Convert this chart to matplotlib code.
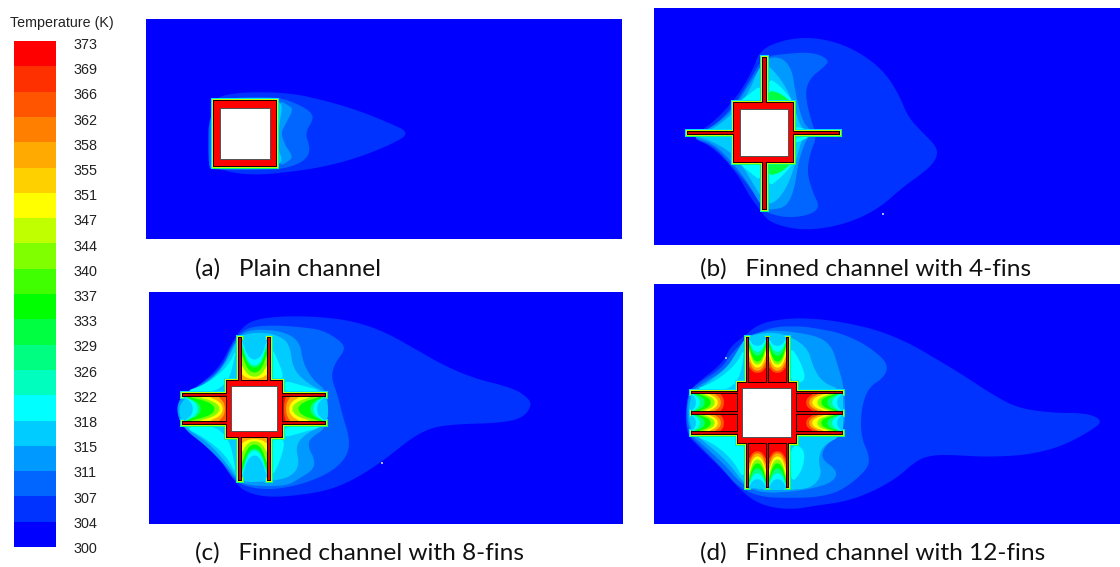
import numpy as np
import matplotlib
matplotlib.use('Agg')
import matplotlib.pyplot as plt
from matplotlib.patches import Polygon, Rectangle

# colour scale
LEVELS = [373, 369, 366, 362, 358, 355, 351, 347, 344, 340, 337, 333, 329, 326, 322, 318, 315, 311, 307, 304, 300]
BANDS = ['#ff0000', '#ff3000', '#ff5500', '#ff8000', '#ffaa00', '#ffd000', '#ffff00', '#bfff00', '#80ff00', '#40ff00',
         '#00ff00', '#00ff40', '#00ff80', '#00ffbf', '#00ffff', '#00ccff', '#0099ff', '#0066ff', '#0033ff', '#0000ff']
C304, C307, C311, C315, C318 = '#0033ff', '#0066ff', '#0099ff', '#00ccff', '#00ffff'
GAP_COLORS = ['#00ccff', '#00ffff', '#00ff80', '#00ff00', '#80ff00', '#ffff00', '#ffaa00', '#ff5500', '#ff0000']
HALO = [(2.0, '#00e0ff'), (1.5, '#00ff80'), (0.9, '#c0ff00')]

CAPTIONS = ['(a)   Plain channel', '(b)   Finned channel with 4-fins',
            '(c)   Finned channel with 8-fins', '(d)   Finned channel with 12-fins']
CAPTION_XY = [(195, 269), (700, 269), (195, 553), (700, 553)]
PANELS = [(146, 19, 622, 239), (654, 8, 1120, 245), (149, 292, 623, 524), (654, 284, 1120, 524)]

# panel a contours
A_304 = [(213, 100), (227, 94), (253, 92), (290, 93), (323, 100), (357, 110), (387, 122), (411, 133), (390, 145),
         (357, 158), (323, 167), (290, 172), (257, 175), (233, 173), (217, 168)]
A_307 = [(209, 99), (276, 96), (300, 105), (312, 113), (313, 120), (305, 133), (310, 147), (308, 157), (297, 165),
         (276, 170), (212, 170), (208, 166)]
A_311 = [(276, 99), (290, 106), (293, 110), (285, 125), (281, 133), (285, 145), (292, 155), (291, 160), (276, 168)]
A_315 = [(276, 100), (283, 105), (279, 125), (278, 150), (283, 160), (276, 167)]

# panel b contours
B_304 = [(760, 50), (783, 40), (810, 37), (840, 43), (867, 57), (887, 75), (900, 97), (908, 117), (923, 133), (937, 147),
         (937, 158), (927, 170), (903, 187), (877, 210), (843, 225), (803, 231), (770, 223), (760, 210), (750, 197),
         (737, 173), (713, 147), (690, 137), (713, 123), (737, 97), (753, 70)]
B_307 = [(763, 57), (783, 54), (813, 52), (830, 60), (823, 68), (810, 78), (805, 93), (810, 117), (817, 137), (810, 153),
         (807, 173), (813, 193), (820, 207), (810, 215), (787, 218), (767, 213), (762, 207), (750, 187), (733, 167),
         (713, 145), (690, 138), (713, 127), (733, 107), (750, 80)]
B_311 = [(767, 57), (783, 58), (792, 70), (795, 90), (800, 113), (806, 127), (815, 132), (806, 139), (798, 163), (795, 187),
         (787, 207), (770, 210), (762, 207), (748, 183), (733, 163), (713, 143), (690, 137), (713, 127), (733, 110), (750, 83)]
B_315 = [(768, 65), (780, 78), (790, 95), (795, 110), (800, 125), (806, 132), (800, 145), (795, 165), (788, 185), (778, 200),
         (768, 205), (760, 195), (748, 175), (735, 155), (712, 141), (695, 136), (712, 130), (735, 112), (750, 90), (760, 65)]
B_CYAN = [[(768, 78), (778, 84), (788, 95), (795, 105), (768, 105)], [(768, 187), (778, 180), (788, 170), (795, 160), (768, 160)],
          [(735, 105), (752, 92), (761, 85), (763, 105)], [(735, 160), (752, 174), (761, 181), (763, 160)],
          [(794, 126), (812, 131), (794, 132)], [(794, 138), (812, 136), (794, 144)]]
B_GREEN = [[(768, 90), (780, 93), (790, 101), (792, 104), (768, 104)], [(768, 176), (780, 173), (790, 165), (792, 162), (768, 162)]]

# panel c contours
C_304 = [(178, 397), (197, 387), (220, 367), (233, 340), (247, 322), (270, 317), (300, 316), (333, 318), (360, 323),
         (387, 333), (417, 350), (443, 365), (473, 378), (513, 388), (527, 397), (532, 405), (523, 418), (500, 423),
         (460, 424), (433, 427), (413, 437), (393, 453), (370, 470), (343, 485), (317, 493), (270, 498), (245, 492),
         (235, 482), (220, 460), (200, 440), (180, 420)]
C_307 = [(233, 342), (245, 328), (270, 325), (300, 327), (323, 330), (342, 342), (345, 350), (335, 363), (331, 377),
         (337, 393), (343, 417), (350, 440), (347, 457), (330, 473), (300, 485), (270, 490), (247, 487), (233, 480),
         (217, 453), (190, 433), (178, 420), (178, 397), (197, 387), (222, 368)]
C_311 = [(243, 332), (260, 329), (285, 332), (300, 342), (303, 363), (313, 380), (328, 392), (328, 427), (310, 438),
         (308, 447), (315, 460), (313, 470), (300, 478), (287, 486), (253, 486), (238, 482), (225, 465), (205, 445),
         (185, 430), (177, 415), (178, 400), (197, 388), (220, 372), (233, 345)]
C_315 = [(240, 335), (262, 332), (280, 336), (290, 345), (293, 370), (310, 385), (327, 393), (329, 424), (308, 432), (295, 445),
         (300, 465), (290, 478), (262, 482), (240, 482), (228, 465), (208, 442), (185, 428), (179, 415), (180, 402),
         (200, 388), (222, 370), (235, 345)]
C_CYAN = [[(270, 345), (278, 360), (285, 380), (270, 380)], [(270, 480), (280, 462), (286, 438), (270, 438)],
          [(238, 345), (228, 367), (205, 385), (182, 392), (226, 392)], [(238, 478), (226, 455), (205, 438), (182, 426), (226, 426)],
          [(283, 380), (300, 385), (326, 392), (283, 393)], [(283, 438), (300, 433), (326, 426), (283, 426)]]

# panel d contours
D_304 = [(743, 337), (760, 323), (790, 318), (820, 319), (847, 323), (877, 330), (907, 342), (933, 357), (963, 375),
         (990, 393), (1017, 408), (1053, 413), (1087, 413), (1104, 421), (1087, 433), (1060, 447), (1027, 455), (987, 457),
         (953, 455), (933, 455), (917, 460), (897, 478), (870, 493), (843, 502), (820, 505), (790, 510), (760, 505),
         (740, 490), (723, 470), (700, 448), (685, 433), (687, 393), (697, 383), (723, 363), (730, 347)]
D_307 = [(745, 340), (770, 327), (800, 326), (820, 329), (840, 333), (863, 343), (883, 358), (888, 368), (883, 378),
         (868, 388), (861, 410), (861, 437), (870, 457), (867, 470), (843, 490), (820, 497), (790, 498), (760, 497),
         (738, 487), (722, 468), (700, 446), (686, 432), (687, 394), (697, 384), (722, 368), (730, 355)]
D_311 = [(750, 335), (770, 330), (795, 332), (820, 337), (832, 347), (837, 363), (845, 390), (845, 433), (827, 443),
         (820, 458), (837, 470), (835, 480), (820, 487), (790, 492), (762, 493), (742, 485), (725, 465), (703, 445),
         (688, 432), (687, 395), (700, 385), (725, 370), (735, 355), (746, 338)]
D_315 = [(750, 336), (768, 332), (788, 335), (808, 348), (813, 367), (823, 383), (843, 390), (844, 435), (823, 445),
         (818, 460), (822, 475), (812, 488), (790, 490), (760, 490), (745, 485), (728, 462), (706, 443), (689, 430),
         (689, 397), (703, 386), (727, 368), (737, 352), (745, 338)]
D_CYAN = [[(789, 345), (800, 360), (807, 382), (789, 383)], [(790, 444), (805, 448), (803, 470), (790, 485)],
          [(746, 345), (736, 365), (713, 383), (692, 390), (737, 391)], [(692, 435), (713, 443), (733, 460), (745, 482), (745, 445), (737, 435)]]

# solids: square outer, square hole, vertical fins, horizontal fins
A_SOLID = ((213, 100, 277, 167), (221, 109, 270, 159), [], [])
B_SOLID = ((733, 102, 794, 163), (741, 110, 788, 156), [(762, 767, 57, 210)], [(687, 840, 131, 135)])
C_SOLID = ((226, 380, 283, 438), (232, 387, 277, 431), [(238, 242, 337, 481), (267, 271, 337, 481)],
           [(182, 326, 393, 397), (182, 326, 421, 425)])
D_SOLID = ((737, 382, 797, 444), (743, 389, 791, 437), [(746, 749, 337, 488), (766, 769, 337, 488), (786, 789, 337, 488)],
           [(691, 843, 391, 394), (691, 843, 411, 415), (691, 843, 431, 435)])

# gaps between fins: axis, root, tip, side 1, side 2, depth at centre, depth at the fin walls
C_WALL_H = [43, 43, 43, 42, 40, 30, 18, 8, 3]
C_WALL_V = [43, 42, 40, 36, 28, 16, 6, 3, 1]
C_GAPS = [('h', 283, 326, 397, 421, [41, 34, 30, 27, 15, 9, 6, 3, 1], C_WALL_H),
          ('h', 226, 182, 397, 421, [40, 33, 28, 25, 11, 6, 3, 1, 0], C_WALL_H),
          ('v', 380, 337, 242, 267, [30, 20, 14, 12, 7, 3, 1, 0, 0], C_WALL_V),
          ('v', 438, 481, 242, 267, [25, 17, 12, 10, 6, 3, 1, 0, 0], C_WALL_V)]
D_WALL_V = [45, 44, 43, 41, 38, 34, 28, 22, 16]
D_WALL_H = [46, 46, 45, 43, 40, 35, 29, 23, 17]
D_TOP = [45, 36, 30, 26, 20, 17, 14, 11, 9]
D_BOTTOM = [44, 35, 29, 24, 19, 15, 12, 9, 7]
D_RIGHT = [46, 40, 35, 30, 24, 20, 15, 12, 9]
D_LEFT = [46, 41, 37, 32, 26, 22, 19, 16, 13]
D_GAPS = [('v', 382, 337, 749, 766, D_TOP, D_WALL_V), ('v', 382, 337, 769, 786, D_TOP, D_WALL_V),
          ('v', 444, 488, 749, 766, D_BOTTOM, D_WALL_V), ('v', 444, 488, 769, 786, D_BOTTOM, D_WALL_V),
          ('h', 797, 843, 394, 411, D_RIGHT, D_WALL_H), ('h', 797, 843, 415, 431, D_RIGHT, D_WALL_H),
          ('h', 737, 691, 394, 411, D_LEFT, D_WALL_H), ('h', 737, 691, 415, 431, D_LEFT, D_WALL_H)]

SPECKS = [(883, 214), (382, 463), (726, 358)]
# shape of a contour across a gap, 0 at the wall side, 1 at the centre line
ACROSS = [-0.06, -0.06, 0.06, 0.16, 0.3, 0.5, 0.7, 0.84, 0.94, 1.06, 1.06]
WALL_PULL = [0, 1, 0.7, 0.35, 0.1, 0, 0.1, 0.35, 0.7, 1, 0]


def smooth(pts, rounds=3):
    pts = np.array(pts, dtype=float)
    for _ in range(rounds):
        nxt = np.roll(pts, -1, axis=0)
        pts = np.column_stack([0.75 * pts + 0.25 * nxt, 0.25 * pts + 0.75 * nxt]).reshape(-1, 2)
    return pts


def fill(ax, pts, color, rounds=3):
    ax.add_patch(Polygon(smooth(pts, rounds), closed=True, fc=color, ec='none'))


def box(ax, x0, y0, x1, y1, color, grow=0.0):
    ax.add_patch(Rectangle((x0 - grow, y0 - grow), x1 - x0 + 2 * grow, y1 - y0 + 2 * grow, fc=color, ec='none'))


def solid_rects(solid):
    outer, hole, vfins, hfins = solid
    return [outer] + [(f[0], f[2], f[1], f[3]) for f in vfins] + [(f[0], f[2], f[1], f[3]) for f in hfins]


def draw_halo(ax, solid):
    for grow, col in HALO:
        for r in solid_rects(solid):
            box(ax, *r, col, grow)


def draw_gap(ax, gap):
    axis, root, tip, low, high, centre, wall = gap
    sign = 1 if tip > root else -1
    for col, c, w in zip(GAP_COLORS, centre, wall):
        if c == 0:
            continue
        along = [c + p * (w - c) for p in WALL_PULL]
        along[0] = along[-1] = -6
        a = [low + t * (high - low) for t in ACROSS]
        b = [root + sign * d for d in along]
        fill(ax, list(zip(b, a)) if axis == 'h' else list(zip(a, b)), col, 1)


def draw_solid(ax, solid):
    outer, hole, vfins, hfins = solid
    for r in solid_rects(solid):
        box(ax, *r, '#1a0000')
    for f in vfins:
        box(ax, f[0] + 1, f[2] + 1, f[1] - 1, f[3] - 1, '#d80000')
    for f in hfins:
        box(ax, f[0] + 1, f[2] + 1, f[1] - 1, f[3] - 1, '#d80000')
    box(ax, outer[0] + 1, outer[1] + 1, outer[2] - 1, outer[3] - 1, '#ff0000')
    box(ax, *hole, '#555555', 0.7)
    box(ax, *hole, '#ffffff')


fig = plt.figure(figsize=(11.2, 5.67), dpi=100)
ax = fig.add_axes([0, 0, 1, 1])
ax.set_xlim(0, 1120)
ax.set_ylim(567, 0)
ax.axis('off')

# colour bar
ax.text(61.5, 23, 'Temperature (K)', ha='center', va='center', fontsize=10.3, family='Liberation Sans', color='#222222')
bar_top, band_h = 41, 25.3
for i, col in enumerate(BANDS):
    box(ax, 14, bar_top + i * band_h, 56, bar_top + (i + 1) * band_h + 0.3, col)
for i, lev in enumerate(LEVELS):
    ax.text(74, 45 + i * 25.2, str(lev), ha='left', va='center', fontsize=10.4, family='Liberation Sans', color='#222222')

for x0, y0, x1, y1 in PANELS:
    box(ax, x0, y0, x1, y1, '#0000ff')

for band, col in zip([A_304, A_307, A_311, A_315], [C304, C307, C311, C315]):
    fill(ax, band, col)
draw_halo(ax, A_SOLID)
draw_solid(ax, A_SOLID)

for band, col in zip([B_304, B_307, B_311, B_315], [C304, C307, C311, C315]):
    fill(ax, band, col)
for p in B_CYAN:
    fill(ax, p, C318)
for p in B_GREEN:
    fill(ax, p, '#00ff40')
draw_halo(ax, B_SOLID)
draw_solid(ax, B_SOLID)

for band, col in zip([C_304, C_307, C_311, C_315], [C304, C307, C311, C315]):
    fill(ax, band, col)
for p in C_CYAN:
    fill(ax, p, C318)
draw_halo(ax, C_SOLID)
for g in C_GAPS:
    draw_gap(ax, g)
draw_solid(ax, C_SOLID)

for band, col in zip([D_304, D_307, D_311, D_315], [C304, C307, C311, C315]):
    fill(ax, band, col)
for p in D_CYAN:
    fill(ax, p, C318)
draw_halo(ax, D_SOLID)
for g in D_GAPS:
    draw_gap(ax, g)
draw_solid(ax, D_SOLID)

for x, y in SPECKS:
    box(ax, x - 0.7, y - 0.7, x + 0.7, y + 0.7, '#aab4ff')

for txt, (x, y) in zip(CAPTIONS, CAPTION_XY):
    ax.text(x, y, txt, ha='left', va='center', fontsize=17.6, family='Lato', color='#111111')

fig.savefig('out.png', dpi=100)
